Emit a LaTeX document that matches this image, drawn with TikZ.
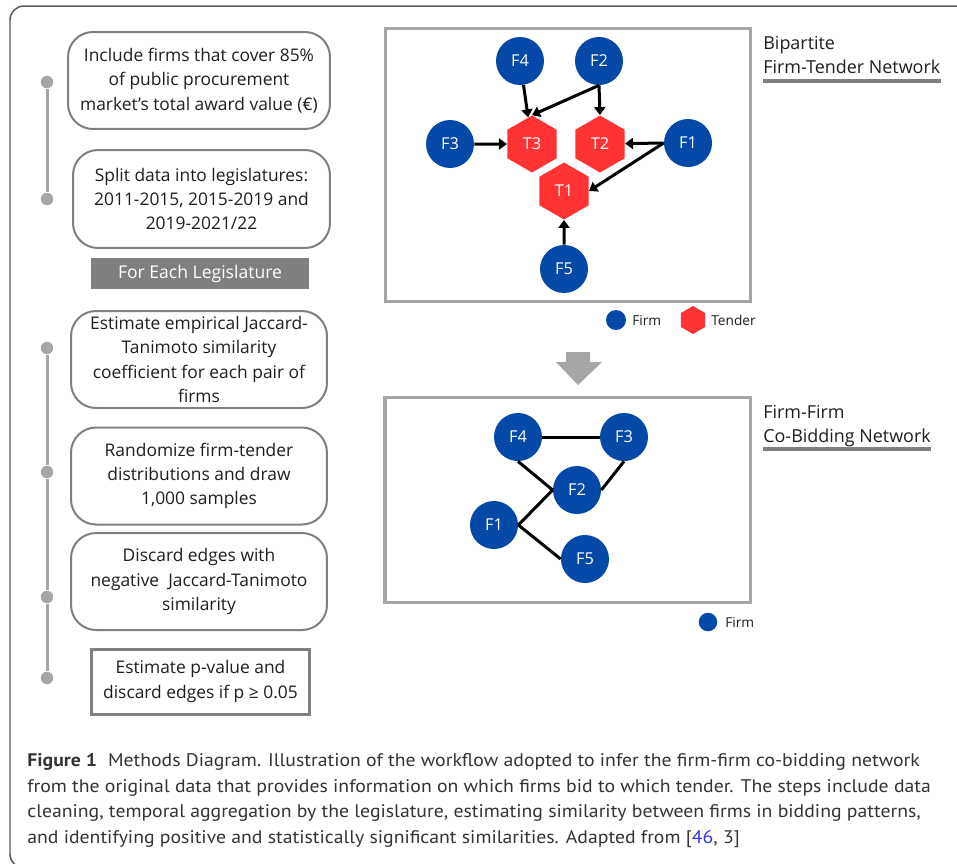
\documentclass[tikz,border=0pt]{standalone}
\usepackage{fontspec}
\setmainfont{Open Sans}
\newfontfamily\capfont[FakeStretch=1.08]{PT Sans}
\usetikzlibrary{arrows.meta,shapes.geometric}

\definecolor{firmblue}{RGB}{4,72,168}
\definecolor{tenderred}{RGB}{255,51,51}
\definecolor{lightgrey}{RGB}{166,166,166}
\definecolor{midgrey}{RGB}{127,127,127}
\definecolor{framegrey}{RGB}{90,90,90}
\definecolor{inkgrey}{RGB}{30,30,30}
\definecolor{capgrey}{RGB}{51,51,51}
\definecolor{refblue}{RGB}{51,51,230}

\tikzset{
  stepbox/.style={draw=midgrey, line width=0.04cm, rounded corners=0.5cm, minimum width=5.12cm, minimum height=1.94cm,
    inner sep=0pt, align=center, text=inkgrey, font=\fontsize{9.9}{13.9}\selectfont},
  lastbox/.style={stepbox, rounded corners=0pt, line width=0.06cm, minimum width=4.38cm, minimum height=1.3cm},
  tdot/.style={circle, fill=lightgrey, inner sep=0pt, minimum size=0.25cm},
  tline/.style={lightgrey, line width=0.06cm},
  firm/.style={circle, fill=firmblue, text=white, inner sep=0pt, minimum size=0.96cm, font=\fontsize{9.3}{11}\selectfont},
  tender/.style={regular polygon, regular polygon sides=6, shape border rotate=30, fill=tenderred, text=white,
    inner sep=0pt, minimum size=1.14cm, font=\fontsize{9.3}{11}\selectfont},
  netframe/.style={draw=lightgrey, line width=0.07cm},
  link/.style={line width=0.06cm},
  nettitle/.style={anchor=base west, inner sep=0pt, text=inkgrey, font=\fontsize{10.2}{12}\selectfont},
  titlebar/.style={midgrey, line width=0.08cm},
  legendtext/.style={anchor=west, inner sep=0pt, text=inkgrey, font=\fontsize{7.8}{9}\selectfont}
}

\begin{document}
\begin{tikzpicture}[x=0.02cm, y=-0.02cm, >={Triangle[length=0.16cm, width=0.22cm]}]
            \clip (0,0) rectangle (957,863);
            \draw[framegrey, line width=0.03cm, rounded corners=0.28cm] (10,6) rectangle (1000,868);

            \node[stepbox, minimum width=5.24cm] (incl) at (199,80.5) {Include firms that cover 85\%\\of public procurement\\market's total award value (€)};
            \node[stepbox, minimum width=5.14cm, minimum height=1.96cm] (split) at (201.5,199) {Split data into legislatures:\\2011-2015, 2015-2019 and\\2019-2021/22};
            \node[fill=midgrey, text=white, minimum width=4.36cm, minimum height=0.62cm, inner sep=0pt, font=\fontsize{10}{12}\selectfont] (each) at (200,273.5) {For Each Legislature};
            \node[stepbox] (jacc) at (199,359.5) {Estimate empirical Jaccard-\\Tanimoto similarity\\coefficient for each pair of\\firms};
            \node[stepbox] (rand) at (199,476) {Randomize firm-tender\\distributions and draw\\1,000 samples};
            \node[stepbox] (disc) at (199,581.5) {Discard edges with\\negative~ Jaccard-Tanimoto\\similarity};
            \node[lastbox] (pval) at (200.5,681.5) {Estimate p-value and\\discard edges if p ≥ 0.05};

            \node[tdot] (d1) at (47,82) {}; \node[tdot] (d2) at (47,199) {};
            \node[tdot] (d3) at (47,348) {}; \node[tdot] (d4) at (47,472) {}; \node[tdot] (d5) at (47,597) {}; \node[tdot] (d6) at (47,678) {};
            \draw[tline] (d1) to (d2); \draw[tline] (d3) to (d4) to (d5) to (d6);

            \draw[netframe] (385.5,28.5) rectangle (750.5,301.5);
            \node[firm] (F4) at (520,61) {F4};
            \node[firm] (F2) at (599,61) {F2};
            \node[firm] (F3) at (450,144) {F3};
            \node[tender] (T3) at (532,144) {T3};
            \node[tender] (T2) at (600,144) {T2};
            \node[firm] (F1) at (688,143) {F1};
            \node[tender] (T1) at (564,191) {T1};
            \node[firm] (F5) at (564,269) {F5};

            \draw[->, link] (F4) to (T3); \draw[->, link] (F2.south) to (T3.north); \draw[->, link] (F2.south) to (T2.north);
            \draw[->, link] (F3) to (T3); \draw[->, link] (F1.west) to (T2); \draw[->, link] (F1.west) to (T1.east); \draw[->, link] (F5) to (T1);

            \node[firm, minimum size=0.4cm] (lgfirm) at (616,320) {}; \node[legendtext] (lgfirmtxt) at (632,320) {Firm};
            \node[tender, minimum size=0.56cm] (lgtender) at (693,320) {}; \node[legendtext] (lgtendertxt) at (711,320) {Tender};

            \node[nettitle] (bp1) at (763,49) {Bipartite};
            \node[nettitle] (bp2) at (763,73) {Firm-Tender Network};
            \draw[titlebar] ([yshift=-0.16cm]bp2.base west) to ([yshift=-0.16cm]bp2.base east);

            \fill[lightgrey] (566,352) -- (590,352) -- (590,362) -- (602,362) -- (578,385) -- (556,362) -- (566,362) -- cycle;

            \draw[netframe] (385,397.5) rectangle (750.5,602.5);
            \node[firm] (G4) at (518,437) {F4};
            \node[firm] (G3) at (624,437) {F3};
            \node[firm] (G2) at (577,490) {F2};
            \node[firm] (G1) at (494,525) {F1};
            \node[firm] (G5) at (585,559) {F5};

            \draw[link] (G4) to (G3); \draw[link] (G4.south) to (G2.west); \draw[link] (G3.south) to (G2.east);
            \draw[link] (G1.east) to (G2.west); \draw[link] (G1.east) to (G5.west);

            \node[firm, minimum size=0.37cm] (lgfirm2) at (708,622) {}; \node[legendtext] (lgfirmtxt2) at (725,622) {Firm};

            \node[nettitle] (ff1) at (763,418) {Firm-Firm};
            \node[nettitle] (ff2) at (763,442) {Co-Bidding Network};
            \draw[titlebar] ([yshift=-0.14cm]ff2.base west) to ([yshift=-0.14cm]ff2.base east);

            \node[anchor=north west, inner sep=0pt, align=left, text=capgrey, font=\capfont\fontsize{10.4}{14.6}\selectfont] (cap) at (27,753)
              {\textbf{Figure 1}\hspace{0.22cm}Methods Diagram. Illustration of the workflow adopted to infer the firm-firm co-bidding network\\
               from the original data that provides information on which firms bid to which tender. The steps include data\\
               cleaning, temporal aggregation by the legislature, estimating similarity between firms in bidding patterns,\\
               and identifying positive and statistically significant similarities. Adapted from [\textcolor{refblue}{46}, 3]};
        \end{tikzpicture}
\end{document}
